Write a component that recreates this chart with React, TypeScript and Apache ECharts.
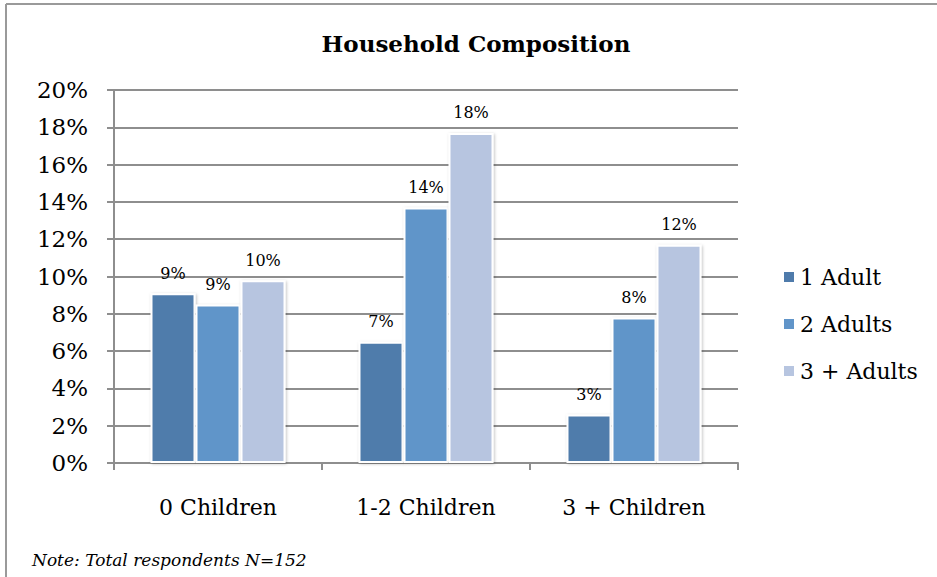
import React, { useEffect, useRef } from "react";
import * as echarts from "echarts";

const categories = ["0 Children", "1-2 Children", "3 + Children"];
const seriesNames = ["1 Adult", "2 Adults", "3 + Adults"];
const oneAdult = [9.1, 6.5, 2.6];
const twoAdults = [8.5, 13.7, 7.8];
const threePlusAdults = [9.8, 17.7, 11.7];
const seriesColors = ["#4F7BAB", "#6195C9", "#B7C5E0"];
const yTicks = { min: 0, max: 20, interval: 2 };

const FONT = "DejaVu Serif";
const GRID_GRAY = "#8E8E8E";

export default function App() {
  const ref = useRef<HTMLDivElement>(null);

  useEffect(() => {
    if (!ref.current) return;
    const chart = echarts.init(ref.current, undefined, { renderer: "svg" });
    const values = [oneAdult, twoAdults, threePlusAdults];

    chart.setOption({
      animation: false,
      backgroundColor: "#ffffff",
      textStyle: { fontFamily: FONT, color: "#000" },
      title: {
        text: "Household Composition",
        left: 471,
        textAlign: "center",
        top: 27,
        textStyle: { fontFamily: FONT, fontSize: 23, fontWeight: "bold", color: "#000" },
      },
      legend: {
        orient: "vertical",
        left: 777,
        top: 261,
        itemWidth: 12,
        itemHeight: 12,
        itemGap: 25,
        icon: "rect",
        data: seriesNames,
        textStyle: { fontFamily: FONT, fontSize: 22, lineHeight: 22, color: "#000" },
      },
      grid: { left: 114, right: 199, top: 90, bottom: 114, containLabel: false },
      xAxis: {
        type: "category",
        data: categories,
        axisLine: { lineStyle: { color: GRID_GRAY, width: 2 } },
        axisTick: { show: true, length: 7, inside: false, alignWithLabel: false, lineStyle: { color: GRID_GRAY, width: 2 } },
        axisLabel: { fontFamily: FONT, fontSize: 22, color: "#000", margin: 33 },
      },
      yAxis: {
        type: "value",
        min: yTicks.min,
        max: yTicks.max,
        interval: yTicks.interval,
        axisLine: { show: true, lineStyle: { color: GRID_GRAY, width: 2 } },
        axisTick: { show: true, length: 7, inside: false, lineStyle: { color: GRID_GRAY, width: 2 } },
        splitLine: { show: true, lineStyle: { color: GRID_GRAY, width: 2 } },
        axisLabel: { fontFamily: FONT, fontSize: 23, color: "#000", margin: 26, formatter: "{value}%" },
      },
      series: seriesNames.map((name, i) => ({
        name,
        type: "bar",
        data: values[i],
        barWidth: 45,
        barGap: "0%",
        itemStyle: {
          color: seriesColors[i],
          borderColor: "#ffffff",
          borderWidth: 2,
          shadowColor: "rgba(0,0,0,0.25)",
          shadowBlur: 3,
          shadowOffsetX: 1,
          shadowOffsetY: 1,
        },
        label: {
          show: true,
          position: "top",
          distance: 12,
          fontFamily: FONT,
          fontSize: 16,
          color: "#000",
          formatter: (p: any) => Math.round(p.value) + "%",
        },
      })),
      graphic: [
        { type: "line", shape: { x1: 6, y1: 4, x2: 937, y2: 4 }, style: { stroke: "#9A9A9A", lineWidth: 2 } },
        { type: "line", shape: { x1: 6, y1: 4, x2: 6, y2: 577 }, style: { stroke: "#9A9A9A", lineWidth: 2 } },
        {
          type: "text",
          left: 32,
          top: 551,
          style: {
            text: "Note: Total respondents N=152",
            fontFamily: FONT,
            fontStyle: "italic",
            fontSize: 17,
            fill: "#000",
          },
        },
      ],
    });

    return () => chart.dispose();
  }, []);

  return (
    <div
      ref={ref}
      style={{ position: "absolute", left: 0, top: 0, width: 937, height: 577 }}
    />
  );
}
